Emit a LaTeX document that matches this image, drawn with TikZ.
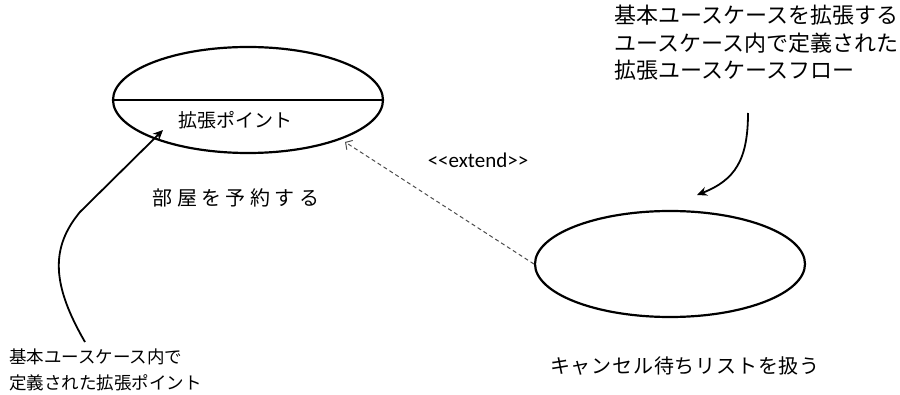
\documentclass[tikz,border=0pt]{standalone}
\usepackage{fontspec}
\setmainfont{Carlito}
\newfontfamily\jp{Noto Sans CJK JP}
\newfontfamily\jpw[LetterSpace=22]{Noto Sans CJK JP}
\newfontfamily\jpv[LetterSpace=4]{Noto Sans CJK JP}
\usetikzlibrary{arrows.meta,shapes.geometric}
\tikzset{
  usecase/.style={draw, ellipse, line width=2.2pt, minimum width=270pt, minimum height=106pt, inner sep=0pt},
  lbl/.style={inner sep=0pt, text=black},
  note/.style={inner sep=0pt, align=left, text=black},
  pointer/.style={line width=1.8pt, -{Stealth[length=10pt,width=9pt]}},
  ext/.style={line width=1pt, dash pattern=on 4pt off 3pt, draw=black!70, -{Straight Barb[length=5pt,width=11pt]}}
}
\begin{document}
\begin{tikzpicture}[x=1pt,y=1pt]
\useasboundingbox (0,0) rectangle (900,394);
\node[usecase] (e1) at (248,294) {};
\draw[line width=2.2pt] (e1.west) -- (e1.east);
\node[usecase] (e2) at (670,130) {};
\node[lbl, font=\jp\fontsize{19}{21}\selectfont] (kp) at (235,274) {拡張ポイント};
\node[lbl, font=\jpw\fontsize{20}{22}\selectfont] (t1) at (236,196) {部屋を予約する};
\node[lbl, font=\jpv\fontsize{20}{22}\selectfont] (t2) at (685,28) {キャンセル待ちリストを扱う};
\node[lbl, font=\fontsize{21}{23}\selectfont] (extl) at (478,234) {{<}{<}extend{>}{>}};
\node[note, font=\jp\fontsize{22}{27.5}\selectfont, anchor=north west] (n1) at (614,389) {基本ユースケースを拡張する\\ユースケース内で定義された\\拡張ユースケースフロー};
\node[note, font=\jp\fontsize{17.5}{26}\selectfont, anchor=north west] (n2) at (9,45) {基本ユースケース内で\\定義された拡張ポイント};
\coordinate (a1s) at (748,281);
\coordinate (a1e) at (697,199);
\coordinate (a2s) at (85,52);
\coordinate (a2m) at (80,182);
\coordinate (a2e) at (163,264);
\coordinate (tip) at (345,252);
\draw[pointer] (a1s) .. controls (748,234) and (735,214) .. (a1e);
\draw[pointer] (a2s) .. controls (52,109) and (50,146) .. (a2m) -- (a2e);
\draw[ext] (e2.west) -- (tip);
\end{tikzpicture}
\end{document}
